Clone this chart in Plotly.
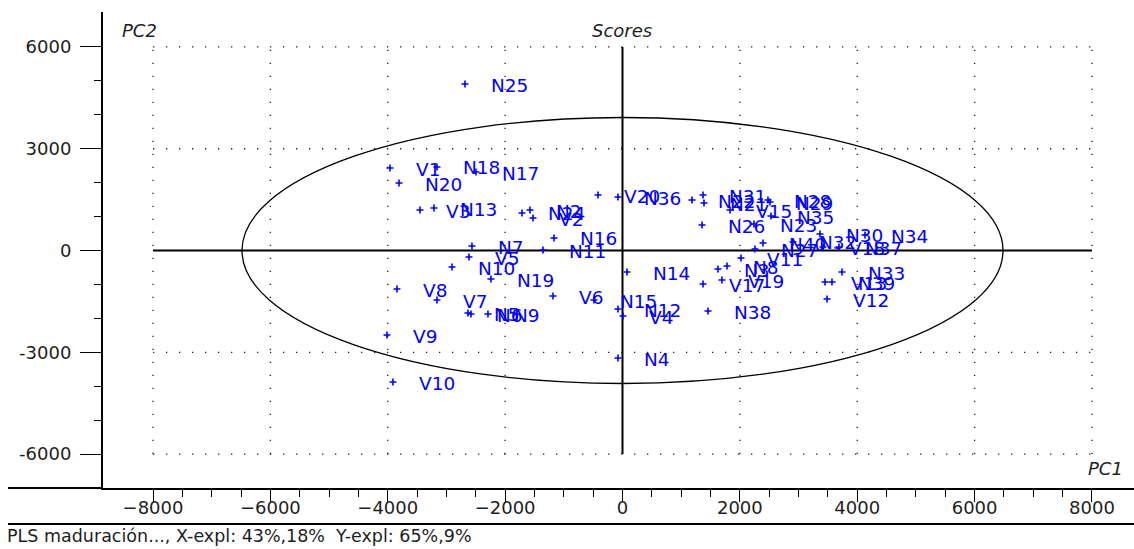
import plotly.graph_objects as go

# ---------------- data ----------------
labels = ["N25", "V1", "N18", "N20", "N17", "V3", "N13", "N24", "N2", "V2",
          "N7", "V5", "N10", "N19", "N11", "N16", "V20", "N36", "V8", "V7",
          "N5", "N6", "N9", "V9", "V10", "V6", "N15", "N12", "V4", "N4",
          "N14", "N22", "N31", "N21", "V15", "N28", "N29", "N35", "N23", "N26",
          "N40", "N27", "V11", "N8", "N3", "V17", "V19", "N38", "N32", "N30",
          "V18", "N37", "N34", "N33", "V13", "N39", "V12"]
pc1 = [-2684, -3962, -3161, -3808, -2496, -3451, -3212, -1713, -1576, -1525,
       -2565, -2616, -2905, -2241, -1355, -1167, -417, -77, -3843, -3161,
       -2633, -2582, -2292, -4013, -3911, -1184, -486, -77, 9, -77,
       77, 1184, 1372, 1389, 1832, 2479, 2513, 2530, 2241, 1355,
       2394, 2258, 2019, 1781, 1627, 1372, 1695, 1457, 2905, 3365,
       3417, 3689, 4132, 3740, 3451, 3570, 3485]
pc2 = [4908, 2432, 2462, 1990, 2314, 1194, 1253, 1106, 1194, 958,
       133, -192, -486, -840, 15, 369, 1636, 1577, -1135, -1459,
       -1843, -1872, -1872, -2491, -3877, -1341, -1459, -1725, -1931, -3169,
       -634, 1489, 1636, 1400, 1194, 1489, 1430, 1017, 781, 752,
       221, 44, -221, -457, -545, -988, -870, -1784, 251, 486,
       103, 103, 457, -634, -929, -929, -1430]

x_ticks = [-8000, -6000, -4000, -2000, 0, 2000, 4000, 6000, 8000]
y_ticks = [-6000, -3000, 0, 3000, 6000]
ellipse_half_axes = [6484, 3921]   # Hotelling ellipse (PC1, PC2)

title_text = "Scores"
x_name = "PC1"
y_name = "PC2"
footnote = "PLS maduración..., X-expl: 43%,18%\u00a0 Y-expl: 65%,9%"

# ---------------- styling ----------------
BLUE = "#0000ff"
INK = "#1e1e1e"
FONT = "DejaVu Sans"

W, H = 1134, 549
ML, MR, MT, MB = 103, 0, 12, 61
PW, PH = W - ML - MR, H - MT - MB


def px_x(p):   # pixel column -> paper x
    return (p - ML) / PW


def px_y(p):   # pixel row -> paper y
    return (H - MB - p) / PH


def fmt_x(v):
    return ("\u2212%d" % -v) if v < 0 else str(v)


fig = go.Figure()
fig.add_trace(go.Scatter(
    x=pc1, y=pc2, mode="markers", text=labels, hoverinfo="text",
    marker=dict(symbol="cross-thin", size=5, color=BLUE,
                line=dict(width=1.6, color=BLUE)),
    showlegend=False, cliponaxis=False))

shapes = []
dot = dict(color=INK, width=1.3, dash="1.3px,11.7px")
for xv in x_ticks:
    if xv != 0:
        shapes.append(dict(type="line", xref="x", yref="y", x0=xv, x1=xv,
                           y0=y_ticks[0], y1=y_ticks[-1], line=dot, layer="below"))
for yv in y_ticks:
    if yv != 0:
        shapes.append(dict(type="line", xref="x", yref="y", x0=x_ticks[0], x1=x_ticks[-1],
                           y0=yv, y1=yv, line=dot, layer="below"))
# solid zero lines
shapes.append(dict(type="line", xref="x", yref="y", x0=x_ticks[0], x1=x_ticks[-1],
                   y0=0, y1=0, line=dict(color="black", width=2), layer="below"))
shapes.append(dict(type="line", xref="x", yref="y", x0=0, x1=0,
                   y0=y_ticks[0], y1=y_ticks[-1], line=dict(color="black", width=2), layer="below"))
# ellipse
shapes.append(dict(type="circle", xref="x", yref="y",
                   x0=-ellipse_half_axes[0], x1=ellipse_half_axes[0],
                   y0=-ellipse_half_axes[1], y1=ellipse_half_axes[1],
                   line=dict(color="black", width=1.3), layer="below"))
# x-axis line extension to the left & footnote separator
shapes.append(dict(type="line", xref="paper", yref="paper", x0=px_x(8), x1=0,
                   y0=0, y1=0, line=dict(color="black", width=2)))
shapes.append(dict(type="line", xref="paper", yref="paper", x0=px_x(8), x1=1,
                   y0=px_y(524), y1=px_y(524), line=dict(color="black", width=2)))

annotations = []
for lab, xv, yv in zip(labels, pc1, pc2):
    annotations.append(dict(x=xv, y=yv, xref="x", yref="y", text=lab,
                            showarrow=False, xanchor="left", yanchor="middle",
                            xshift=24, yshift=-1,
                            font=dict(family=FONT, size=18.5, color=BLUE)))
annotations += [
    dict(x=px_x(120), y=px_y(31), xref="paper", yref="paper", text="<i>%s</i>" % y_name,
         showarrow=False, xanchor="left", yanchor="middle",
         font=dict(family=FONT, size=18, color=INK)),
    dict(x=0, y=px_y(31), xref="x", yref="paper", text="<i>%s</i>" % title_text,
         showarrow=False, xanchor="center", yanchor="middle",
         font=dict(family=FONT, size=18, color=INK)),
    dict(x=px_x(1125), y=px_y(468), xref="paper", yref="paper", text="<i>%s</i>" % x_name,
         showarrow=False, xanchor="right", yanchor="middle",
         font=dict(family=FONT, size=18, color=INK)),
    dict(x=px_x(6), y=px_y(536), xref="paper", yref="paper", text=footnote,
         showarrow=False, xanchor="left", yanchor="middle", borderpad=0,
         font=dict(family=FONT, size=17.5, color=INK)),
]

x_range = [-8852, 8716]
y_range = [-7001, 7031]

fig.update_layout(
    width=W, height=H,
    margin=dict(l=ML, r=MR, t=MT, b=MB, pad=0),
    paper_bgcolor="white", plot_bgcolor="white",
    shapes=shapes, annotations=annotations, showlegend=False,
    xaxis=dict(range=x_range, showgrid=False, zeroline=False,
               showline=True, linecolor="black", linewidth=2,
               ticks="outside", tickvals=x_ticks, ticktext=[fmt_x(v) for v in x_ticks],
               ticklen=12, tickwidth=1, tickcolor="black",
               ticklabelstandoff=-10,
               tickfont=dict(family=FONT, size=18, color=INK),
               minor=dict(tickvals=[v for v in range(-8000, 8001, 500)],
                          ticks="outside", ticklen=7, tickwidth=1,
                          tickcolor="black", showgrid=False),
               fixedrange=True),
    yaxis=dict(range=y_range, showgrid=False, zeroline=False,
               showline=True, linecolor="black", linewidth=2,
               ticks="outside", tickvals=y_ticks, ticktext=[str(v) for v in y_ticks],
               ticklen=21, tickwidth=1, tickcolor="black",
               ticklabelstandoff=5,
               tickfont=dict(family=FONT, size=18, color=INK),
               minor=dict(tickvals=[v for v in range(-6000, 6001, 1000)],
                          ticks="outside", ticklen=7, tickwidth=1,
                          tickcolor="black", showgrid=False),
               fixedrange=True),
)

fig.write_html("out.html")
